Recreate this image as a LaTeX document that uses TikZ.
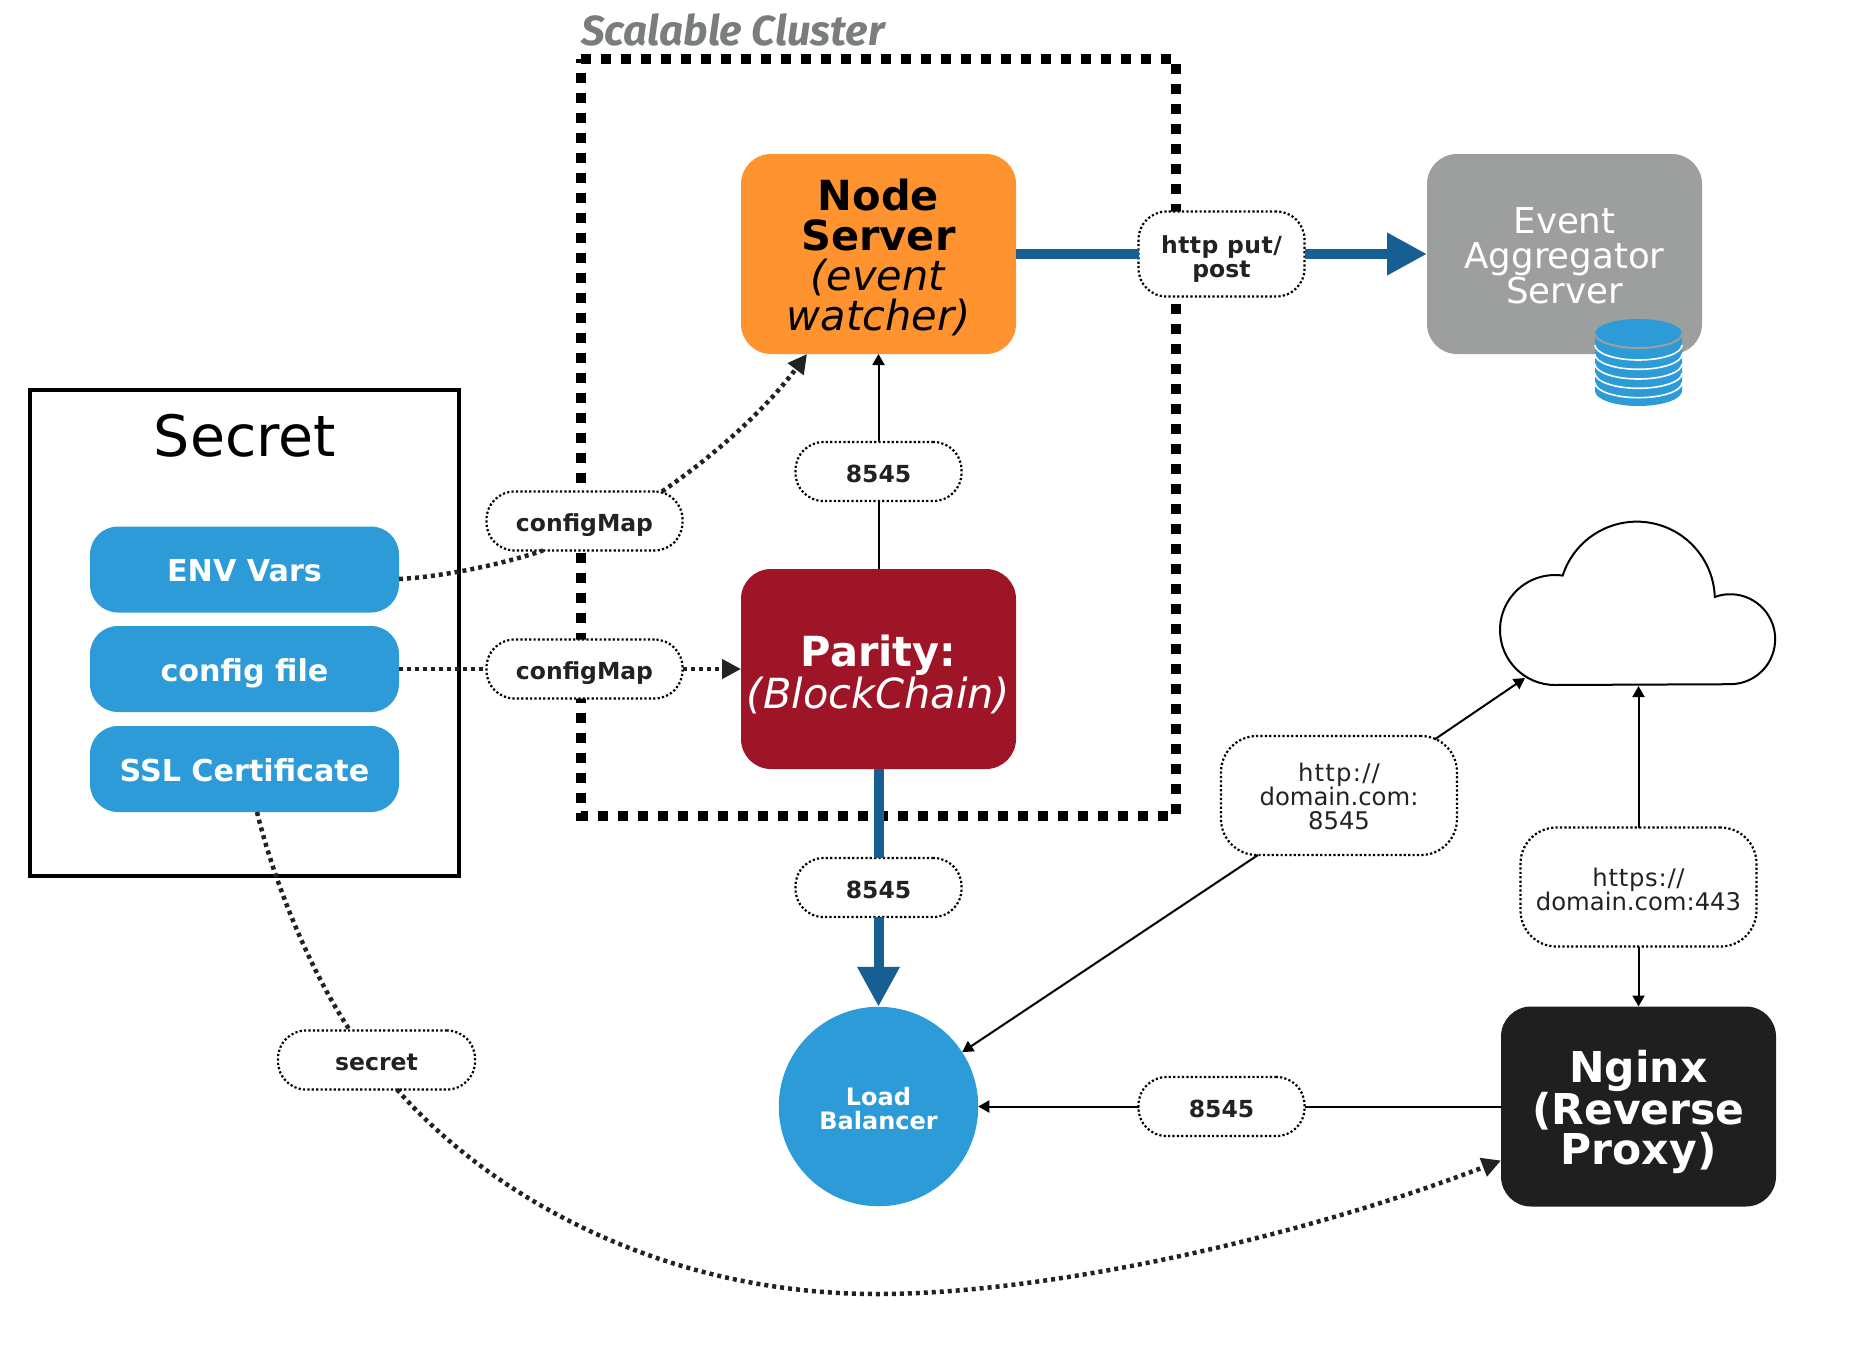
\documentclass[tikz,border=0pt]{standalone}
\usepackage{fontspec}
\usepackage{tikz}
\setmainfont{DejaVu Sans}
\newfontfamily\clusterfont{Fira Sans}
\usetikzlibrary{arrows.meta,positioning}
\definecolor{orangebox}{HTML}{FF9330}
\definecolor{redbox}{HTML}{9E1527}
\definecolor{greybox}{HTML}{9C9F9E}
\definecolor{darkbox}{HTML}{1F1F1F}
\definecolor{bluebox}{HTML}{2D9BD8}
\definecolor{bluelink}{HTML}{175E92}
\definecolor{inkline}{HTML}{222222}
\definecolor{clustergrey}{HTML}{7A7D7D}

\begin{document}
\begin{tikzpicture}[x=1pt,y=-1pt,node distance=100pt,
    main node/.style={rectangle,rounded corners=30pt,minimum width=275pt,minimum height=200pt,
                      inner sep=0pt,outer sep=0pt,align=center,font=\fontsize{41.5}{40}\selectfont},
    blue node/.style={rectangle,rounded corners=28pt,fill=bluebox,text=white,minimum width=309pt,minimum height=86pt,
                      inner sep=0pt,outer sep=0pt,text height=30.8pt,text depth=6pt,font=\fontsize{30.2}{30}\selectfont\bfseries},
    pill node/.style={rectangle,rounded corners=28pt,draw=black,fill=white,text=inkline,line width=2.2pt,
                      dash pattern=on 2.2pt off 2.2pt,minimum width=166pt,minimum height=59pt,
                      inner sep=0pt,outer sep=0pt,align=center,font=\fontsize{23.5}{24}\selectfont\bfseries},
    port node/.style={pill node,text height=27pt,text depth=6pt},
    wide pill/.style={pill node,rounded corners=36pt,minimum width=236pt,minimum height=119pt,
                      font=\fontsize{24.3}{24}\selectfont\mdseries},
    thin link/.style={draw=black,line width=2pt,-{Triangle[length=11pt,width=12pt]}},
    plain link/.style={draw=black,line width=2pt},
    blue link/.style={draw=bluelink,line width=10pt},
    blue arrow/.style={blue link,-{Triangle[length=40pt,width=40pt]}},
    dot link/.style={draw=inkline,line width=4.5pt,dash pattern=on 4pt off 4pt},
    dot arrow/.style={dot link,-{Triangle[length=19pt,width=19pt]}}]

  \useasboundingbox (0,0) rectangle (1856,1350);

  % cluster frame and its title
  \draw[black,line width=10pt,dash pattern=on 10pt off 10pt]
    (581,59) -- (1176,59) -- (1176,816) -- (581,816) -- cycle;
  \node[anchor=base west,inner sep=0pt,text=clustergrey,font=\fontsize{42}{42}\selectfont\clusterfont\bfseries\itshape]
    (clustertitle) at (581,45) {Scalable Cluster};

  % servers
  \node[main node,fill=orangebox,text=black] (server) at (878.5,254) {\rule{0pt}{38pt}\textbf{Node}\\\textbf{Server}\\\textit{(event}\\\textit{watcher)}};
  \node[main node,fill=redbox,text=white] (parity) [below of=server,node distance=415pt] {\rule{0pt}{42pt}\textbf{Parity:}\\\textit{(BlockChain)}};
  \node[main node,fill=greybox,text=white,font=\fontsize{35.6}{35}\selectfont] (aggregator) [right of=server,node distance=686pt] {\rule{0pt}{30pt}Event\\Aggregator\\Server};
  \node[circle,fill=bluebox,text=white,minimum size=199.5pt,inner sep=0pt,outer sep=0pt,align=center,
        font=\fontsize{24}{24}\selectfont\bfseries] (balancer) [below of=parity,node distance=437.5pt] {\rule{0pt}{22.5pt}Load\\Balancer};
  \node[main node,fill=darkbox,text=white,font=\fontsize{42.5}{40}\selectfont\bfseries] (nginx) [right of=balancer,node distance=760pt] {\rule{0pt}{43pt}Nginx\\(Reverse\\Proxy)};

  % database icon
  \fill[bluebox] (1595,333.5) -- (1595,391) arc (180:360:43.5pt and 15pt) -- (1682,333.5) arc (0:180:43.5pt and 14.5pt) -- cycle;
  \foreach \stripe in {345,354.3,364,373.3,382.7}
    \draw[white,line width=1.6pt] (1595,\stripe) arc (180:360:43.5pt and 15pt);
  \draw[greybox,line width=2pt] (1595,333.5) arc (180:360:43.5pt and 14.5pt);

  % cloud
  \draw[black,line width=2pt,fill=white] (1555,685) arc (270:82:55pt) arc (162:2:78pt) arc (110:-90:45pt) -- cycle;
  \node[minimum width=273pt,minimum height=166pt,inner sep=0pt,outer sep=0pt] (cloud) at (1638.5,603) {};
  \coordinate (cloudedge) at (1525,678);

  % secret box
  \node[rectangle,draw=black,line width=4pt,minimum width=429pt,minimum height=486pt,inner sep=0pt] (secretbox) at (244.5,633) {};
  \node[font=\fontsize{57}{57}\selectfont,text=black,inner sep=0pt] (secrettitle) at (245,436) {Secret};
  \node[blue node] (config) at (244.5,669) {config file};
  \node[blue node] (env) [above of=config,node distance=99.5pt] {ENV Vars};
  \node[blue node] (ssl) [below of=config,node distance=100pt] {SSL Certificate};

  % labels on the links
  \node[port node,minimum width=196pt] (mapb) [right of=config,node distance=340pt] {configMap};
  \node[port node,minimum width=196pt] (mapa) [above of=mapb,node distance=148pt] {configMap};
  \node[port node,minimum width=197pt] (secretlabel) at (376.5,1060) {secret};
  \node[port node] (portup) [below of=server,node distance=217.5pt] {8545};
  \node[port node] (portdown) [below of=parity,node distance=218.5pt] {8545};
  \node[port node] (portright) [right of=balancer,node distance=343pt] {8545};
  \node[pill node,minimum height=85pt] (http) [right of=server,node distance=343pt] {\rule{0pt}{27.5pt}\addfontfeature{LetterSpace=2}http put/\\post};
  \node[wide pill] (domain) at (1339,795.5) {\rule{0pt}{20pt}\addfontfeature{LetterSpace=5}http://\\domain.com:\\8545};
  \node[wide pill] (domaintls) [above of=nginx,node distance=219.5pt] {\rule{0pt}{23pt}\addfontfeature{LetterSpace=3}https://\\domain.com:443};

  % links
  \path
    (server.east) edge[blue link] (http.west)
    (http.east) edge[blue arrow] (aggregator.west)
    (parity.south) edge[blue link] (portdown.north)
    (portdown.south) edge[blue arrow] (balancer.north)
    (parity.north) edge[plain link] (portup.south)
    (portup.north) edge[thin link] (server.south)
    (nginx.west) edge[plain link] (portright.east)
    (portright.west) edge[thin link] (balancer.east)
    (domaintls.south) edge[thin link] (nginx.north)
    (domaintls.north) edge[thin link] (cloud.south)
    ([shift={(95.5,3.5)}]domain.north) edge[thin link] (cloudedge)
    ([shift={(-81,0)}]domain.south) edge[thin link] (balancer.33)
    (config.east) edge[dot link] (mapb.west)
    (mapb.east) edge[dot arrow] (parity.west);

  \draw[dot link] ([shift={(0,9.5)}]env.east) .. controls (440,577) and (500,565) .. ([shift={(-41.5,0)}]mapa.south);
  \draw[dot arrow] ([shift={(77.5,0)}]mapa.north) .. controls (715,455) and (765,410) .. ([shift={(-71.5,0)}]server.south);
  \draw[dot link] ([shift={(12.5,0)}]ssl.south) .. controls (275,885) and (310,970) .. ([shift={(-26.5,0)}]secretlabel.north);
  \draw[dot arrow] ([shift={(20.5,0)}]secretlabel.south) .. controls (490,1195) and (660,1294) .. (877,1294)
    .. controls (1050,1294) and (1301,1237) .. ([shift={(0,54)}]nginx.west);
\end{tikzpicture}
\end{document}
